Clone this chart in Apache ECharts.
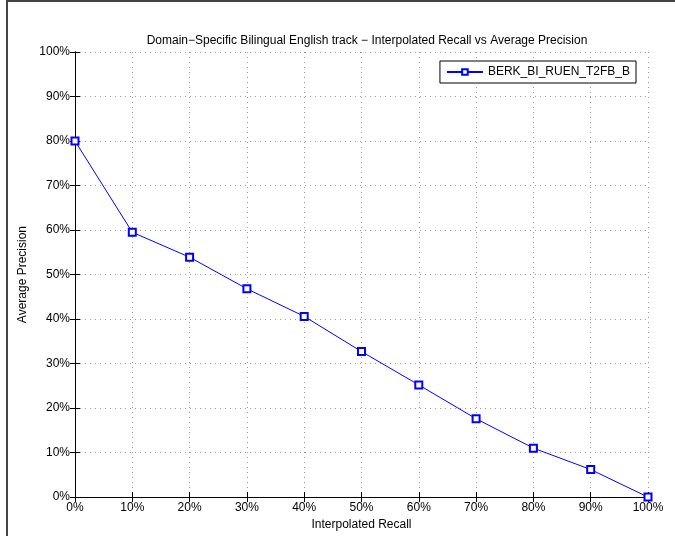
<!DOCTYPE html>
<html><head><meta charset="utf-8">
<script src="https://cdn.jsdelivr.net/npm/echarts@6/dist/echarts.min.js"></script>
<style>html,body{margin:0;padding:0;background:#fff}#c{width:675px;height:536px}</style>
</head><body><div id="c"></div>
<script>
var recall = [0, 10, 20, 30, 40, 50, 60, 70, 80, 90, 100];
var precision = [80, 59.5, 53.9, 46.8, 40.6, 32.7, 25.2, 17.6, 11.0, 6.2, 0];
var seriesName = 'BERK_BI_RUEN_T2FB_B';
var titleText = 'Domain\u2212Specific Bilingual English track \u2212 Interpolated Recall vs Average Precision';

var chart = echarts.init(document.getElementById('c'));
var font = 'Liberation Sans, Arial, Helvetica, sans-serif';
var dotted = {show: true, lineStyle: {color: '#999', type: [1, 4], width: 1}};
chart.setOption({
  animation: false,
  textStyle: {fontFamily: font},
  title: {text: titleText, left: 362, top: 30, textAlign: 'center',
    textStyle: {fontSize: 12, fontWeight: 'normal', color: '#000', fontFamily: font}},
  grid: {left: 75, right: 27, top: 52, bottom: 34},
  legend: {right: 39, top: 61, orient: 'vertical', itemWidth: 36, itemHeight: 7, padding: [5, 6, 5, 6],
    borderColor: '#000', borderWidth: 1, backgroundColor: '#fff',
    textStyle: {fontSize: 12, color: '#000', fontFamily: font}, data: [seriesName]},
  graphic: [
    {type: 'line', shape: {x1: 6, y1: 1, x2: 675, y2: 1}, style: {stroke: '#444', lineWidth: 2}, silent: true},
    {type: 'line', shape: {x1: 7, y1: 0, x2: 7, y2: 536}, style: {stroke: '#444', lineWidth: 2}, silent: true}
  ],
  xAxis: [{type: 'value', min: 0, max: 100, interval: 10, position: 'bottom',
    name: 'Interpolated Recall', nameLocation: 'middle', nameGap: 21,
    nameTextStyle: {fontSize: 12, color: '#000'},
    axisLine: {lineStyle: {color: '#000', width: 1}},
    axisTick: {inside: true, length: 5, lineStyle: {color: '#000'}},
    axisLabel: {formatter: '{value}%', color: '#000', fontSize: 12, margin: 5},
    splitLine: dotted},
   {type: 'value', min: 0, max: 100, interval: 10, position: 'top',
    axisLine: {lineStyle: {color: '#000', width: 1}},
    axisTick: {inside: true, length: 5, lineStyle: {color: '#000'}},
    axisLabel: {show: false}, splitLine: {show: false}}],
  yAxis: [{type: 'value', min: 0, max: 100, interval: 10, position: 'left',
    name: 'Average Precision', nameLocation: 'middle', nameGap: 38, nameRotate: 90,
    nameTextStyle: {fontSize: 12, color: '#000'},
    axisLine: {lineStyle: {color: '#000', width: 1}},
    axisTick: {inside: true, length: 5, lineStyle: {color: '#000'}},
    axisLabel: {formatter: '{value}%', color: '#000', fontSize: 12, margin: 5},
    splitLine: dotted},
   {type: 'value', min: 0, max: 100, interval: 10, position: 'right',
    axisLine: {lineStyle: {color: '#000', width: 1}},
    axisTick: {inside: true, length: 5, lineStyle: {color: '#000'}},
    axisLabel: {show: false}, splitLine: {show: false}}],
  series: [{name: seriesName, type: 'line', xAxisIndex: 0, yAxisIndex: 0,
    data: recall.map(function (r, i) { return [r, precision[i]]; }),
    symbol: 'emptyRect', symbolSize: 7, showAllSymbol: true,
    lineStyle: {color: '#0000ff', width: 1},
    itemStyle: {color: '#0000ff', borderColor: '#3333ff', borderWidth: 1}}]
});
</script></body></html>
